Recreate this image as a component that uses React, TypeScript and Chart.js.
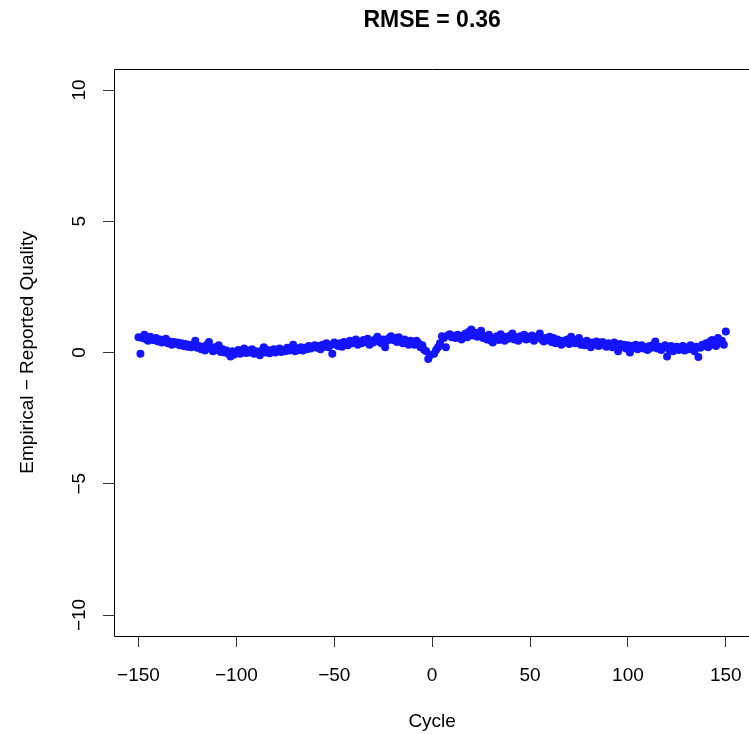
import { useEffect, useRef } from 'react';
import { Chart, registerables } from 'chart.js';
Chart.register(...registerables);

const chartTitle = 'RMSE = 0.36';
const xTitle = 'Cycle';
const yTitle = 'Empirical \u2212 Reported Quality';
const xTicks = [-150, -100, -50, 0, 50, 100, 150];
const yTicks = [-10, -5, 0, 5, 10];

// cycles -150 .. -1
const firstNegCycle = -150;
const negCycleValues = [
  0.58, -0.05, 0.55, 0.68, 0.5, 0.45, 0.6, 0.52, 0.47, 0.55,
  0.42, 0.5, 0.38, 0.45, 0.52, 0.35, 0.42, 0.3, 0.4, 0.33,
  0.38, 0.28, 0.35, 0.25, 0.32, 0.22, 0.3, 0.2, 0.28, 0.45,
  0.18, 0.25, 0.12, 0.22, 0.08, 0.3, 0.4, 0.15, 0.05, 0.2,
  0.1, 0.28, 0.02, 0.12, 0.0, 0.08, -0.05, -0.15, 0.05, -0.08,
  0.0, 0.1, -0.05, 0.05, 0.15, -0.02, 0.08, 0.0, 0.12, -0.05,
  0.05, 0.02, -0.1, 0.08, 0.2, 0.0, 0.1, -0.03, 0.06, 0.12,
  0.0, 0.08, 0.15, 0.02, 0.1, 0.05, 0.18, 0.08, 0.12, 0.3,
  0.05, 0.15, 0.1, 0.2, 0.08, 0.18, 0.12, 0.25, 0.15, 0.22,
  0.28, 0.18, 0.25, 0.12, 0.3, 0.22, 0.35, 0.2, 0.28, -0.05,
  0.38, 0.3, 0.25, 0.35, 0.22, 0.4, 0.32, 0.28, 0.45, 0.35,
  0.38, 0.5, 0.3, 0.42, 0.35, 0.48, 0.4, 0.52, 0.3, 0.45,
  0.38, 0.5, 0.6, 0.42, 0.35, 0.5, 0.2, 0.45, 0.55, 0.62,
  0.48, 0.55, 0.4, 0.58, 0.45, 0.35, 0.5, 0.42, 0.3, 0.45,
  0.4, 0.3, 0.45, 0.35, 0.2, 0.28, 0.1, 0.05, -0.25, -0.1,
];

// cycles 1 .. 150
const firstPosCycle = 1;
const posCycleValues = [
  -0.05, 0.1, 0.2, 0.35, 0.62, 0.55, 0.2, 0.65, 0.7, 0.58,
  0.62, 0.55, 0.68, 0.6, 0.5, 0.65, 0.72, 0.58, 0.8, 0.88,
  0.65, 0.75, 0.6, 0.7, 0.83, 0.55, 0.62, 0.5, 0.68, 0.45,
  0.38, 0.55, 0.62, 0.48, 0.7, 0.58, 0.45, 0.6, 0.52, 0.65,
  0.72, 0.5, 0.58, 0.45, 0.62, 0.55, 0.68, 0.5, 0.6, 0.52,
  0.65, 0.45, 0.58, 0.62, 0.72, 0.5, 0.42, 0.55, 0.48, 0.6,
  0.4, 0.55, 0.35, 0.5, 0.42, 0.3, 0.45, 0.38, 0.5, 0.32,
  0.6, 0.42, 0.35, 0.48, 0.55, 0.3, 0.4, 0.28, 0.45, 0.35,
  0.2, 0.38, 0.3, 0.42, 0.25, 0.35, 0.4, 0.28, 0.22, 0.35,
  0.3, 0.2, 0.38, 0.25, 0.05, 0.32, 0.22, 0.3, 0.15, 0.28,
  0.0, 0.25, 0.18, 0.3, 0.12, 0.22, 0.28, 0.15, 0.2, 0.1,
  0.25, 0.18, 0.3, 0.42, 0.15, 0.22, 0.1, 0.2, 0.28, -0.15,
  0.12, 0.25, 0.05, 0.18, 0.22, 0.1, 0.15, 0.25, 0.08, 0.2,
  0.12, 0.28, 0.15, 0.05, 0.22, -0.17, 0.18, 0.3, 0.25, 0.35,
  0.2, 0.42, 0.48, 0.3, 0.25, 0.55, 0.38, 0.45, 0.3, 0.8,
];

const FONT = '"Liberation Sans", Arial, Helvetica, sans-serif';

const textPlugin = {
  id: 'rtext',
  afterDraw(chart: any) {
    const { ctx, chartArea, scales } = chart;
    const xs = scales.x;
    const ys = scales.y;
    ctx.save();
    ctx.strokeStyle = '#000';
    ctx.lineWidth = 1;
    ctx.beginPath();
    ctx.moveTo(chartArea.right + 20, chartArea.top + 0.5);
    ctx.lineTo(chartArea.left + 0.5, chartArea.top + 0.5);
    ctx.lineTo(chartArea.left + 0.5, chartArea.bottom + 0.5);
    ctx.lineTo(chartArea.right + 20, chartArea.bottom + 0.5);
    ctx.stroke();

    ctx.fillStyle = '#000';
    ctx.font = `bold 23px ${FONT}`;
    ctx.textAlign = 'center';
    ctx.textBaseline = 'middle';
    const cx = xs.getPixelForValue(0);
    ctx.fillText(chartTitle, cx, 21);

    ctx.font = `19px ${FONT}`;
    xTicks.forEach((v) => {
      const label = v < 0 ? '\u2212' + Math.abs(v) : String(v);
      ctx.fillText(label, xs.getPixelForValue(v), 676);
    });
    ctx.fillText(xTitle, cx, 722);

    yTicks.forEach((v) => {
      const label = v < 0 ? '\u2212' + Math.abs(v) : String(v);
      ctx.save();
      ctx.translate(80, ys.getPixelForValue(v));
      ctx.rotate(-Math.PI / 2);
      ctx.fillText(label, 0, 0);
      ctx.restore();
    });
    ctx.save();
    ctx.translate(28, ys.getPixelForValue(0));
    ctx.rotate(-Math.PI / 2);
    ctx.fillText(yTitle, 0, 0);
    ctx.restore();
    ctx.restore();
  },
};

export default function App() {
  const ref = useRef<HTMLCanvasElement>(null);
  useEffect(() => {
    const points = [
      ...negCycleValues.map((y, i) => ({ x: firstNegCycle + i, y })),
      ...posCycleValues.map((y, i) => ({ x: firstPosCycle + i, y })),
    ];
    const chart = new Chart(ref.current!, {
      type: 'scatter',
      data: {
        datasets: [
          {
            data: points,
            pointRadius: 4,
            pointBackgroundColor: '#1414ff',
            pointBorderWidth: 0,
            showLine: false,
          },
        ],
      },
      options: {
        responsive: false,
        animation: false,
        layout: { padding: { top: 69, left: 0, right: 0, bottom: 0 } },
        plugins: { legend: { display: false }, tooltip: { enabled: false } },
        scales: {
          x: {
            type: 'linear',
            min: -162.5,
            max: 159.8,
            afterBuildTicks: (s: any) => {
              s.ticks = xTicks.map((v) => ({ value: v }));
            },
            afterFit: (s: any) => {
              s.height = 98;
            },
            ticks: { display: false },
            grid: { drawOnChartArea: false, drawTicks: true, tickLength: 11, color: '#333', lineWidth: 1 },
            border: { display: false },
          },
          y: {
            type: 'linear',
            min: -10.8,
            max: 10.8,
            afterBuildTicks: (s: any) => {
              s.ticks = yTicks.map((v) => ({ value: v }));
            },
            afterFit: (s: any) => {
              s.width = 114;
            },
            ticks: { display: false },
            grid: { drawOnChartArea: false, drawTicks: true, tickLength: 11, color: '#333', lineWidth: 1 },
            border: { display: false },
          },
        },
      },
      plugins: [textPlugin],
    });
    return () => chart.destroy();
  }, []);
  return (
    <div style={{ position: 'absolute', left: 0, top: 0, width: 749, height: 734, background: '#fff' }}>
      <canvas ref={ref} width={749} height={734} style={{ display: 'block' }} />
    </div>
  );
}
